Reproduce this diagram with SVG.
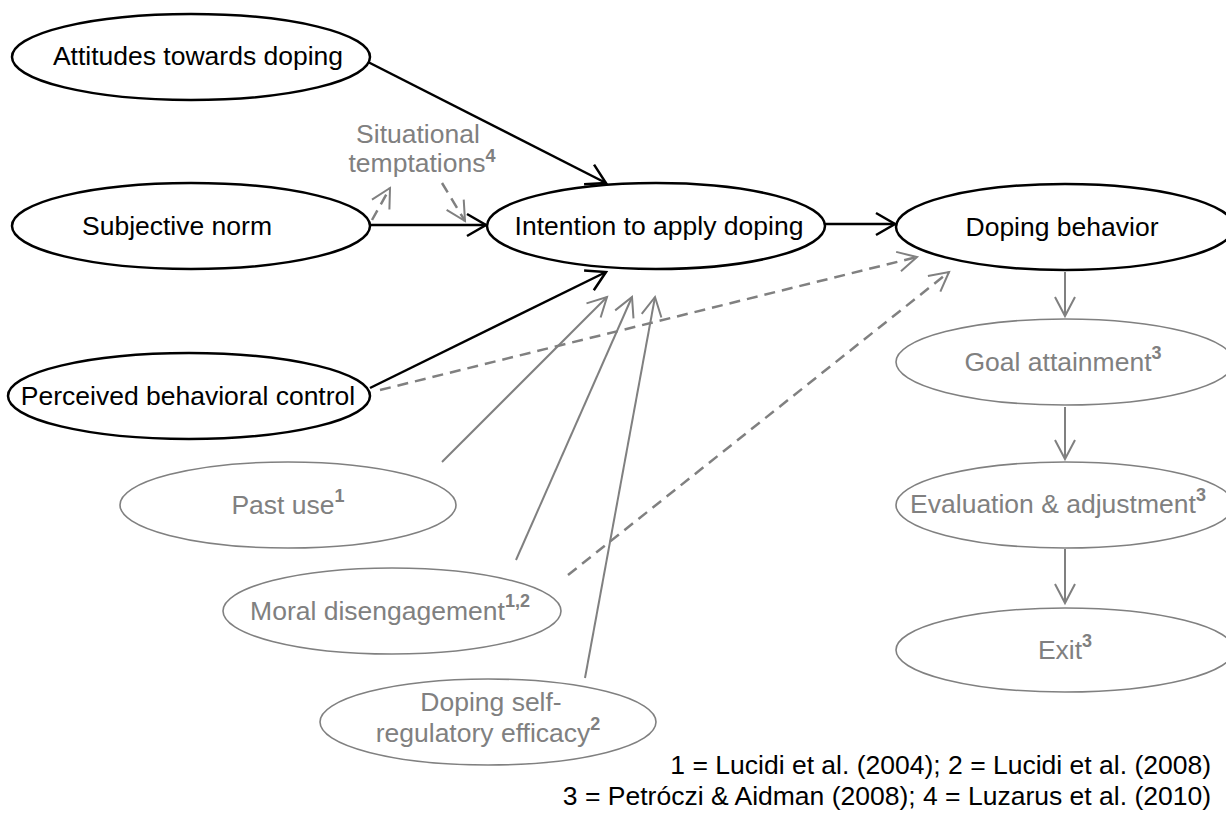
<svg xmlns="http://www.w3.org/2000/svg" width="1226" height="813" viewBox="0 0 1226 813">
<style>
  .nb { fill: #ffffff; stroke: #000000; stroke-width: 2.5; }
  .ng { fill: #ffffff; stroke: #808080; stroke-width: 1.6; }
  .tb { font-family: "Liberation Sans", Arial, sans-serif; font-size: 26.5px; fill: #000000; text-anchor: middle; }
  .tg { font-family: "Liberation Sans", Arial, sans-serif; font-size: 26.5px; fill: #808080; text-anchor: middle; }
  .sup { font-size: 18px; font-weight: bold; }
  .cb { stroke: #000000; stroke-width: 2.5; fill: none; marker-end: url(#ab); }
  .cg { stroke: #808080; stroke-width: 2; fill: none; marker-end: url(#ag); }
  .cd { stroke: #808080; stroke-width: 2.5; fill: none; stroke-dasharray: 11 7; marker-end: url(#ag); }
  .cit { font-family: "Liberation Sans", Arial, sans-serif; font-size: 26.5px; fill: #000000; text-anchor: end; }
</style>
<defs>
  <marker id="ab" markerUnits="userSpaceOnUse" viewBox="-22 -13 24 26" refX="0" refY="0" markerWidth="24" markerHeight="26" orient="auto" overflow="visible">
    <path d="M -19 -11 L 0 0 L -19 11" fill="none" stroke="#000000" stroke-width="2.5"/>
  </marker>
  <marker id="ag" markerUnits="userSpaceOnUse" viewBox="-22 -13 24 26" refX="0" refY="0" markerWidth="24" markerHeight="26" orient="auto" overflow="visible">
    <path d="M -19 -10 L 0 0 L -19 10" fill="none" stroke="#808080" stroke-width="2"/>
  </marker>
</defs>
<rect width="1226" height="813" fill="#ffffff"/>

<g id="connectors">
  <line class="cb" x1="368" y1="62" x2="606" y2="183"/>
  <line class="cb" x1="370" y1="225" x2="486" y2="225"/>
  <line class="cb" x1="370" y1="388" x2="606" y2="272"/>
  <line class="cb" x1="825" y1="224" x2="895" y2="224"/>
  <line class="cd" x1="372" y1="220" x2="390" y2="188"/>
  <line class="cd" x1="442" y1="183" x2="465" y2="221"/>
  <line class="cd" x1="380" y1="390" x2="917" y2="257"/>
  <line class="cd" x1="568" y1="575" x2="949" y2="272"/>
  <line class="cg" x1="442" y1="462" x2="607" y2="297"/>
  <line class="cg" x1="516" y1="560" x2="632" y2="297"/>
  <line class="cg" x1="585" y1="678" x2="655" y2="297"/>
  <line class="cg" x1="1065" y1="272" x2="1065" y2="316"/>
  <line class="cg" x1="1065" y1="407" x2="1065" y2="459"/>
  <line class="cg" x1="1065" y1="549" x2="1065" y2="603"/>
</g>

<g id="attitudes">
  <ellipse class="nb" cx="191" cy="57" rx="179" ry="43"/>
  <text class="tb" x="198" y="65">Attitudes towards doping</text>
</g>
<g id="subjective-norm">
  <ellipse class="nb" cx="191" cy="226" rx="179" ry="43"/>
  <text class="tb" x="177" y="235">Subjective norm</text>
</g>
<g id="perceived-control">
  <ellipse class="nb" cx="189" cy="396" rx="181" ry="43"/>
  <text class="tb" x="188" y="405">Perceived behavioral control</text>
</g>
<g id="intention">
  <ellipse class="nb" cx="656" cy="226" rx="169" ry="43"/>
  <text class="tb" x="659" y="235">Intention to apply doping</text>
</g>
<g id="doping-behavior">
  <ellipse class="nb" cx="1065" cy="227" rx="169" ry="43"/>
  <text class="tb" x="1062" y="236">Doping behavior</text>
</g>
<g id="situational-temptations">
  <text class="tg" x="418" y="143">Situational</text>
  <text class="tg" x="422" y="172">temptations<tspan class="sup" dy="-10">4</tspan></text>
</g>
<g id="goal-attainment">
  <ellipse class="ng" cx="1065" cy="362" rx="169" ry="43"/>
  <text class="tg" x="1063" y="371">Goal attainment<tspan class="sup" dy="-12">3</tspan></text>
</g>
<g id="evaluation">
  <ellipse class="ng" cx="1065" cy="505" rx="169" ry="43"/>
  <text class="tg" x="1058" y="513">Evaluation &amp; adjustment<tspan class="sup" dy="-12">3</tspan></text>
</g>
<g id="exit">
  <ellipse class="ng" cx="1065" cy="650" rx="169" ry="42"/>
  <text class="tg" x="1065" y="659">Exit<tspan class="sup" dy="-12">3</tspan></text>
</g>
<g id="past-use">
  <ellipse class="ng" cx="288" cy="505" rx="168" ry="43"/>
  <text class="tg" x="288" y="514">Past use<tspan class="sup" dy="-12">1</tspan></text>
</g>
<g id="moral-disengagement">
  <ellipse class="ng" cx="392" cy="611" rx="169" ry="43"/>
  <text class="tg" x="390" y="620">Moral disengagement<tspan class="sup" dy="-13">1,2</tspan></text>
</g>
<g id="self-efficacy">
  <ellipse class="ng" cx="488" cy="722" rx="168" ry="43"/>
  <text class="tg" x="491" y="711">Doping self-</text>
  <text class="tg" x="488" y="742">regulatory efficacy<tspan class="sup" dy="-12">2</tspan></text>
</g>

<g id="citations">
  <text class="cit" x="1211" y="774">1 = Lucidi et al. (2004); 2 = Lucidi et al. (2008)</text>
  <text class="cit" x="1211" y="805">3 = Petróczi &amp; Aidman (2008); 4 = Luzarus et al. (2010)</text>
</g>
</svg>
